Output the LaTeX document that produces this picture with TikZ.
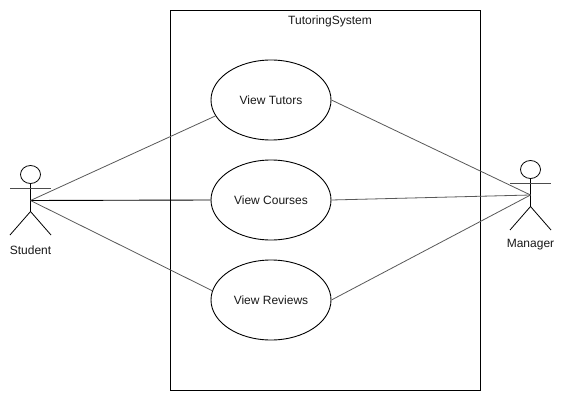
\documentclass[tikz,border=0pt]{standalone}
\usepackage{fontspec}
\setmainfont{Liberation Sans}
\usetikzlibrary{shapes.geometric}
\newcommand{\uclabel}[1]{\raisebox{-0.6pt}{#1}}
\tikzset{
  x=1pt,y=-1pt,
  every node/.style={font=\fontsize{12}{14}\selectfont,text=black!90},
  usecase/.style={draw=black,line width=0.9pt,ellipse,minimum width=120pt,minimum height=80pt,inner sep=0pt},
  assoc/.style={draw=black!65,line width=0.8pt},
  strong/.style={draw=black,line width=0.9pt},
  figure/.style={draw=black,line width=0.8pt},
  armline/.style={draw=black!70,line width=1pt},
  head/.style={draw=black,line width=0.8pt,ellipse,minimum width=20pt,minimum height=18pt,inner sep=0pt},
  boundary/.style={draw=black,line width=0.9pt,minimum width=310pt,minimum height=380pt,inner sep=0pt}
}
\begin{document}
\begin{tikzpicture}
\useasboundingbox (0,0) rectangle (564,401);
\fill[white] (0,0) rectangle (564,401);
\node[boundary] (sys) at (325.5,200.5) {};
\node (title) at (330,21) {TutoringSystem};
\node[usecase] (tutors) at (271,100) {\uclabel{View Tutors}};
\node[usecase] (courses) at (271,200) {\uclabel{View Courses}};
\node[usecase] (reviews) at (271,300) {\uclabel{View Reviews}};
% Student
\node[head] (shead) at (30.5,174.5) {};
\coordinate (sj) at (30.5,200.5);
\coordinate (ship) at (30.5,211.5);
\coordinate (sal) at (10,188.5);
\coordinate (sar) at (51,188.5);
\coordinate (sll) at (10,235);
\coordinate (slr) at (51,235);
\draw[figure] (shead.south) -- (ship);
\draw[armline] (sal) -- (sar);
\draw[figure] (sll) -- (ship) -- (slr);
\node (student) at (30.5,250) {Student};
% Manager
\node[head] (mhead) at (530.5,169.5) {};
\coordinate (mj) at (530.5,195);
\coordinate (mhip) at (530.5,206.5);
\coordinate (mal) at (510,183.5);
\coordinate (mar) at (551,183.5);
\coordinate (mll) at (510,230);
\coordinate (mlr) at (551,230);
\draw[figure] (mhead.south) -- (mhip);
\draw[armline] (mal) -- (mar);
\draw[figure] (mll) -- (mhip) -- (mlr);
\node (manager) at (530.5,245) {Manager};
% Associations
\draw[assoc] (sj) -- (tutors.196);
\draw[strong] (sj) -- (courses.west);
\draw[assoc] (sj) -- (reviews.171);
\draw[assoc] (tutors.east) -- (mj);
\draw[assoc] (courses.east) -- (mj);
\draw[assoc] (reviews.east) -- (mj);
\end{tikzpicture}
\end{document}
